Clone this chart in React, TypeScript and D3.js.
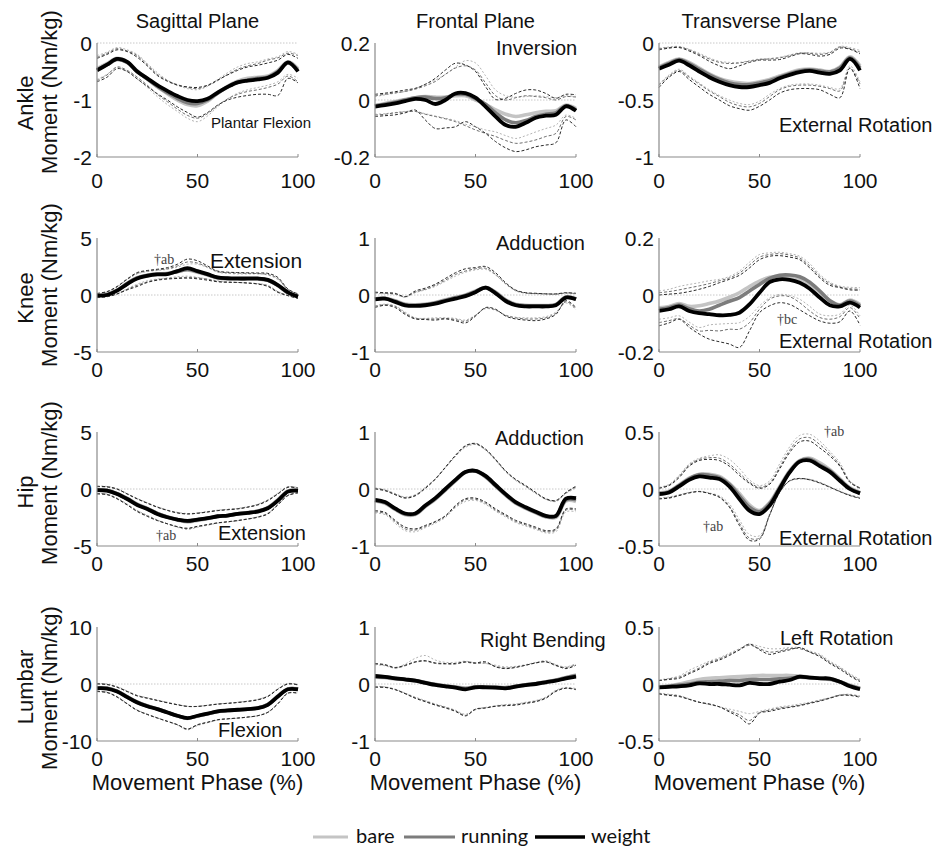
import React from 'react';
import * as d3 from 'd3';

// ---------------- DATA ----------------
const PHASE = [0, 5, 10, 15, 20, 25, 30, 35, 40, 45, 50, 55, 60, 65, 70, 75, 80, 85, 90, 95, 100];

const ROWS = ['Ankle', 'Knee', 'Hip', 'Lumbar'];
const PLANES = ['Sagittal Plane', 'Frontal Plane', 'Transverse Plane'];
const CONDITIONS = ['bare', 'running', 'weight'];

// Ankle
const ankleSag = {
  bM: [-0.45,-0.36,-0.27,-0.33,-0.49,-0.63,-0.77,-0.89,-1.0,-1.08,-1.1,-1.02,-0.88,-0.76,-0.67,-0.62,-0.6,-0.58,-0.48,-0.33,-0.45],
  rM: [-0.47,-0.38,-0.29,-0.34,-0.5,-0.63,-0.76,-0.87,-0.97,-1.05,-1.06,-1.0,-0.88,-0.77,-0.69,-0.65,-0.62,-0.6,-0.5,-0.35,-0.48],
  wM: [-0.48,-0.38,-0.28,-0.33,-0.5,-0.62,-0.74,-0.84,-0.93,-1.0,-1.02,-0.98,-0.87,-0.77,-0.69,-0.66,-0.64,-0.61,-0.52,-0.34,-0.5],
  bU: [-0.22,-0.16,-0.08,-0.12,-0.2,-0.36,-0.52,-0.65,-0.74,-0.8,-0.82,-0.76,-0.64,-0.52,-0.42,-0.36,-0.33,-0.28,-0.24,-0.15,-0.2],
  rU: [-0.25,-0.18,-0.1,-0.14,-0.22,-0.38,-0.55,-0.66,-0.73,-0.78,-0.8,-0.75,-0.66,-0.55,-0.46,-0.4,-0.36,-0.3,-0.26,-0.18,-0.22],
  wU: [-0.27,-0.2,-0.12,-0.15,-0.25,-0.4,-0.57,-0.67,-0.74,-0.77,-0.78,-0.74,-0.65,-0.56,-0.48,-0.42,-0.39,-0.35,-0.3,-0.2,-0.27],
  bL: [-0.64,-0.55,-0.43,-0.5,-0.63,-0.78,-0.94,-1.08,-1.2,-1.32,-1.38,-1.28,-1.12,-0.98,-0.88,-0.82,-0.78,-0.74,-0.68,-0.55,-0.62],
  rL: [-0.66,-0.56,-0.42,-0.48,-0.6,-0.74,-0.9,-1.03,-1.16,-1.27,-1.32,-1.24,-1.1,-0.98,-0.9,-0.85,-0.82,-0.78,-0.72,-0.58,-0.68],
  wL: [-0.68,-0.6,-0.45,-0.5,-0.63,-0.76,-0.89,-1.0,-1.12,-1.22,-1.3,-1.22,-1.09,-1.0,-0.95,-0.92,-0.9,-0.9,-0.92,-0.62,-0.7],
};
const ankleFro = {
  bM: [-0.02,-0.012,-0.005,0.002,0.008,0.012,0.01,0.01,0.015,0.015,0.0,-0.015,-0.035,-0.05,-0.058,-0.052,-0.045,-0.04,-0.038,-0.018,-0.03],
  rM: [-0.02,-0.015,-0.008,0.0,0.008,0.01,0.005,0.008,0.02,0.02,0.005,-0.015,-0.045,-0.07,-0.08,-0.072,-0.058,-0.05,-0.045,-0.02,-0.035],
  wM: [-0.023,-0.018,-0.012,-0.004,0.004,0,-0.014,0,0.023,0.024,0.008,-0.023,-0.058,-0.088,-0.094,-0.08,-0.062,-0.055,-0.052,-0.022,-0.038],
  bU: [0.012,0.018,0.024,0.03,0.04,0.055,0.07,0.09,0.115,0.138,0.13,0.085,0.035,0.015,0.01,0.012,0.015,0.012,0.008,0.015,0.012],
  rU: [0.015,0.02,0.025,0.03,0.038,0.05,0.065,0.09,0.112,0.12,0.105,0.06,0.015,0.0,0.008,0.015,0.012,0.008,0.0,0.012,0.01],
  wU: [0.02,0.024,0.029,0.035,0.041,0.055,0.076,0.105,0.129,0.123,0.1,0.047,0.002,0.006,0.023,0.035,0.035,0.023,0.006,0.02,0.018],
  bL: [-0.05,-0.048,-0.044,-0.04,-0.04,-0.048,-0.056,-0.064,-0.072,-0.085,-0.094,-0.105,-0.112,-0.125,-0.135,-0.125,-0.112,-0.1,-0.088,-0.053,-0.065],
  rL: [-0.053,-0.05,-0.045,-0.042,-0.04,-0.05,-0.058,-0.066,-0.076,-0.09,-0.105,-0.117,-0.128,-0.142,-0.152,-0.148,-0.14,-0.128,-0.117,-0.058,-0.07],
  wL: [-0.058,-0.055,-0.052,-0.045,-0.035,-0.07,-0.1,-0.098,-0.094,-0.076,-0.094,-0.117,-0.146,-0.168,-0.181,-0.175,-0.164,-0.158,-0.15,-0.07,-0.094],
};
const ankleTra = {
  bM: [-0.21,-0.17,-0.14,-0.17,-0.22,-0.27,-0.31,-0.335,-0.35,-0.355,-0.34,-0.32,-0.29,-0.26,-0.235,-0.228,-0.238,-0.25,-0.21,-0.12,-0.2],
  rM: [-0.22,-0.18,-0.145,-0.18,-0.23,-0.28,-0.32,-0.35,-0.365,-0.365,-0.35,-0.33,-0.3,-0.27,-0.245,-0.235,-0.245,-0.255,-0.22,-0.13,-0.22],
  wM: [-0.225,-0.19,-0.155,-0.195,-0.25,-0.3,-0.34,-0.37,-0.386,-0.386,-0.37,-0.35,-0.31,-0.28,-0.255,-0.245,-0.26,-0.27,-0.24,-0.14,-0.24],
  bU: [-0.045,-0.035,-0.03,-0.055,-0.09,-0.13,-0.16,-0.17,-0.17,-0.155,-0.14,-0.135,-0.125,-0.105,-0.085,-0.085,-0.09,-0.08,-0.03,-0.04,-0.065],
  rU: [-0.05,-0.04,-0.035,-0.06,-0.1,-0.14,-0.17,-0.18,-0.175,-0.16,-0.145,-0.14,-0.13,-0.11,-0.09,-0.09,-0.1,-0.085,-0.035,-0.05,-0.08],
  wU: [-0.06,-0.045,-0.04,-0.07,-0.11,-0.16,-0.2,-0.225,-0.2,-0.17,-0.15,-0.15,-0.145,-0.12,-0.094,-0.1,-0.115,-0.1,-0.045,-0.055,-0.095],
  bL: [-0.36,-0.28,-0.23,-0.29,-0.35,-0.41,-0.46,-0.5,-0.53,-0.54,-0.51,-0.45,-0.4,-0.37,-0.36,-0.36,-0.37,-0.39,-0.4,-0.2,-0.34],
  rL: [-0.37,-0.29,-0.24,-0.3,-0.36,-0.42,-0.47,-0.52,-0.55,-0.56,-0.53,-0.47,-0.41,-0.38,-0.37,-0.37,-0.38,-0.4,-0.42,-0.22,-0.36],
  wL: [-0.39,-0.3,-0.25,-0.32,-0.386,-0.45,-0.5,-0.55,-0.576,-0.59,-0.555,-0.5,-0.44,-0.41,-0.4,-0.4,-0.41,-0.45,-0.48,-0.22,-0.4],
};

// Knee
const kneeSag = {
  bM: [-0.04,0.03,0.42,1.02,1.52,1.74,1.85,1.9,2.1,2.2,2.0,1.75,1.5,1.42,1.4,1.4,1.4,1.28,0.82,0.2,-0.1],
  rM: [-0.05,0.02,0.4,1.0,1.5,1.72,1.82,1.86,2.05,2.25,2.05,1.8,1.52,1.45,1.43,1.43,1.42,1.3,0.85,0.2,-0.12],
  wM: [-0.06,0.0,0.38,0.96,1.45,1.68,1.8,1.83,2.1,2.35,2.1,1.83,1.54,1.47,1.45,1.45,1.45,1.33,0.87,0.23,-0.14],
  bU: [0.1,0.25,0.7,1.35,1.85,2.05,2.15,2.25,2.45,2.7,2.7,2.4,2.0,1.9,1.85,1.85,1.85,1.75,1.35,0.45,0.05],
  rU: [0.12,0.28,0.72,1.38,1.9,2.1,2.2,2.3,2.55,2.9,2.8,2.45,2.05,1.95,1.92,1.9,1.88,1.8,1.45,0.48,0.08],
  wU: [0.14,0.3,0.75,1.4,1.97,2.15,2.26,2.4,2.7,3.15,3.0,2.55,2.1,2.0,1.97,1.95,1.93,1.9,1.54,0.52,0.1],
  bL: [-0.2,-0.12,0.12,0.55,0.95,1.25,1.4,1.5,1.6,1.65,1.55,1.4,1.25,1.15,1.1,1.05,1.0,0.85,0.3,-0.04,-0.26],
  rL: [-0.22,-0.14,0.1,0.5,0.85,1.15,1.35,1.45,1.5,1.55,1.5,1.38,1.2,1.12,1.1,1.05,0.98,0.8,0.28,-0.05,-0.28],
  wL: [-0.23,-0.15,0.09,0.45,0.75,1.1,1.3,1.4,1.45,1.48,1.42,1.3,1.16,1.12,1.1,1.05,0.96,0.75,0.23,-0.06,-0.29],
};
const kneeFro = {
  bM: [-0.065,-0.055,-0.1,-0.16,-0.17,-0.16,-0.13,-0.085,-0.04,0.0,0.07,0.13,0.05,-0.085,-0.16,-0.18,-0.185,-0.185,-0.165,-0.035,-0.065],
  rM: [-0.07,-0.06,-0.11,-0.17,-0.18,-0.17,-0.14,-0.095,-0.05,-0.01,0.06,0.13,0.04,-0.095,-0.17,-0.19,-0.19,-0.19,-0.17,-0.04,-0.07],
  wM: [-0.076,-0.065,-0.12,-0.18,-0.19,-0.18,-0.15,-0.105,-0.064,-0.02,0.05,0.128,0.03,-0.105,-0.18,-0.2,-0.2,-0.2,-0.18,-0.046,-0.076],
  bU: [0.03,0.02,0.01,-0.04,0.04,0.09,0.15,0.24,0.33,0.4,0.44,0.45,0.35,0.19,0.07,0.03,0.02,0.015,0.01,0.03,0.02],
  rU: [0.04,0.03,0.02,-0.03,0.05,0.1,0.17,0.26,0.36,0.42,0.46,0.47,0.36,0.2,0.08,0.035,0.025,0.02,0.015,0.035,0.025],
  wU: [0.05,0.04,0.03,-0.03,0.07,0.12,0.19,0.29,0.39,0.46,0.48,0.5,0.39,0.215,0.087,0.04,0.03,0.02,0.02,0.04,0.03],
  bL: [-0.19,-0.16,-0.19,-0.3,-0.4,-0.41,-0.4,-0.4,-0.41,-0.44,-0.35,-0.24,-0.27,-0.35,-0.39,-0.4,-0.4,-0.38,-0.3,-0.14,-0.26],
  rL: [-0.2,-0.17,-0.2,-0.32,-0.41,-0.42,-0.42,-0.41,-0.43,-0.46,-0.36,-0.23,-0.26,-0.36,-0.4,-0.42,-0.42,-0.4,-0.32,-0.12,-0.24],
  wL: [-0.22,-0.18,-0.22,-0.34,-0.42,-0.43,-0.44,-0.42,-0.45,-0.49,-0.37,-0.22,-0.25,-0.37,-0.42,-0.44,-0.45,-0.42,-0.34,-0.1,-0.22],
};
const kneeTra = {
  bM: [-0.045,-0.04,-0.03,-0.04,-0.038,-0.03,-0.021,-0.008,0.008,0.03,0.049,0.062,0.066,0.064,0.055,0.038,0.01,-0.02,-0.034,-0.018,-0.033],
  rM: [-0.05,-0.045,-0.035,-0.048,-0.056,-0.05,-0.036,-0.022,-0.009,0.014,0.037,0.058,0.069,0.07,0.064,0.045,0.014,-0.02,-0.036,-0.021,-0.038],
  wM: [-0.056,-0.05,-0.04,-0.056,-0.064,-0.067,-0.071,-0.07,-0.062,-0.033,0.008,0.045,0.055,0.053,0.043,0.022,-0.009,-0.036,-0.04,-0.027,-0.044],
  bU: [0.014,0.02,0.03,0.037,0.043,0.05,0.055,0.065,0.084,0.115,0.142,0.148,0.15,0.145,0.136,0.11,0.072,0.045,0.031,0.027,0.026],
  rU: [0.008,0.012,0.018,0.025,0.032,0.04,0.05,0.06,0.077,0.105,0.133,0.142,0.145,0.14,0.13,0.102,0.066,0.04,0.028,0.022,0.02],
  wU: [0.0,0.003,0.006,0.012,0.02,0.03,0.043,0.055,0.069,0.095,0.124,0.136,0.138,0.133,0.124,0.095,0.06,0.034,0.026,0.018,0.017],
  bL: [-0.085,-0.08,-0.073,-0.095,-0.114,-0.105,-0.102,-0.1,-0.097,-0.075,-0.038,-0.01,0.002,-0.002,-0.015,-0.04,-0.067,-0.073,-0.067,-0.036,-0.073],
  rL: [-0.097,-0.09,-0.083,-0.105,-0.126,-0.124,-0.126,-0.12,-0.12,-0.097,-0.05,-0.015,-0.003,-0.006,-0.027,-0.056,-0.079,-0.085,-0.076,-0.044,-0.083],
  wL: [-0.108,-0.098,-0.085,-0.113,-0.137,-0.155,-0.164,-0.172,-0.184,-0.126,-0.062,-0.038,-0.027,-0.033,-0.052,-0.073,-0.091,-0.099,-0.094,-0.056,-0.106],
};

// Hip
const hipSag = {
  bM: [-0.07,-0.12,-0.4,-0.82,-1.33,-1.7,-2.14,-2.47,-2.72,-2.88,-2.75,-2.6,-2.42,-2.33,-2.18,-2.07,-1.93,-1.62,-0.95,-0.18,-0.1],
  rM: [-0.08,-0.14,-0.42,-0.85,-1.36,-1.72,-2.15,-2.46,-2.68,-2.82,-2.7,-2.56,-2.4,-2.32,-2.18,-2.08,-1.95,-1.65,-0.98,-0.2,-0.12],
  wM: [-0.09,-0.15,-0.44,-0.88,-1.4,-1.75,-2.19,-2.48,-2.68,-2.8,-2.68,-2.56,-2.39,-2.33,-2.19,-2.1,-1.98,-1.69,-1.02,-0.23,-0.15],
  bU: [0.25,0.22,0.03,-0.4,-0.83,-1.2,-1.56,-1.84,-2.05,-2.15,-2.1,-1.98,-1.86,-1.78,-1.7,-1.55,-1.33,-0.95,-0.36,0.2,0.12],
  rU: [0.2,0.17,-0.02,-0.42,-0.85,-1.22,-1.58,-1.86,-2.08,-2.18,-2.12,-2.0,-1.88,-1.8,-1.72,-1.57,-1.36,-0.98,-0.4,0.18,0.1],
  wU: [0.23,0.2,0.0,-0.44,-0.87,-1.25,-1.6,-1.88,-2.1,-2.19,-2.13,-2.02,-1.9,-1.82,-1.75,-1.6,-1.4,-1.02,-0.44,0.15,0.06],
  bL: [-0.38,-0.44,-0.8,-1.32,-1.88,-2.3,-2.72,-3.06,-3.36,-3.55,-3.36,-3.18,-3.0,-2.9,-2.78,-2.62,-2.44,-2.12,-1.3,-0.52,-0.3],
  rL: [-0.4,-0.46,-0.83,-1.36,-1.92,-2.35,-2.74,-3.05,-3.32,-3.48,-3.3,-3.14,-2.98,-2.88,-2.76,-2.62,-2.45,-2.15,-1.35,-0.55,-0.32],
  wL: [-0.44,-0.5,-0.87,-1.4,-1.98,-2.4,-2.77,-3.05,-3.3,-3.44,-3.27,-3.12,-2.97,-2.87,-2.77,-2.64,-2.48,-2.19,-1.4,-0.58,-0.35],
};
const hipFro = {
  bM: [-0.21,-0.25,-0.36,-0.45,-0.45,-0.31,-0.18,-0.02,0.14,0.29,0.31,0.21,0.05,-0.11,-0.25,-0.34,-0.42,-0.49,-0.5,-0.21,-0.22],
  rM: [-0.2,-0.24,-0.35,-0.44,-0.44,-0.3,-0.17,-0.01,0.15,0.3,0.32,0.22,0.06,-0.1,-0.24,-0.33,-0.41,-0.48,-0.48,-0.19,-0.19],
  wM: [-0.19,-0.23,-0.34,-0.43,-0.43,-0.29,-0.16,0.0,0.16,0.3,0.32,0.23,0.07,-0.09,-0.23,-0.32,-0.4,-0.47,-0.47,-0.17,-0.16],
  bU: [0.02,-0.01,-0.08,-0.14,-0.1,0.03,0.18,0.37,0.57,0.73,0.78,0.68,0.5,0.3,0.15,0.04,-0.08,-0.18,-0.22,-0.08,0.02],
  rU: [0.01,-0.02,-0.09,-0.15,-0.11,0.02,0.18,0.38,0.58,0.75,0.79,0.69,0.51,0.31,0.16,0.05,-0.07,-0.18,-0.21,-0.07,0.04],
  wU: [0.0,-0.03,-0.1,-0.16,-0.12,0.01,0.17,0.38,0.59,0.76,0.8,0.7,0.52,0.32,0.17,0.06,-0.06,-0.17,-0.2,-0.06,0.05],
  bL: [-0.42,-0.45,-0.6,-0.73,-0.75,-0.68,-0.6,-0.5,-0.33,-0.22,-0.2,-0.27,-0.39,-0.49,-0.59,-0.65,-0.71,-0.77,-0.75,-0.4,-0.4],
  rL: [-0.4,-0.43,-0.57,-0.7,-0.72,-0.66,-0.58,-0.48,-0.31,-0.19,-0.18,-0.25,-0.37,-0.47,-0.57,-0.63,-0.69,-0.75,-0.72,-0.37,-0.37],
  wL: [-0.38,-0.41,-0.55,-0.67,-0.7,-0.64,-0.57,-0.47,-0.29,-0.17,-0.16,-0.23,-0.35,-0.45,-0.55,-0.61,-0.67,-0.73,-0.7,-0.35,-0.35],
};
const hipTra = {
  bM: [-0.035,-0.02,0.035,0.095,0.13,0.13,0.11,0.05,-0.04,-0.14,-0.19,-0.12,0.02,0.16,0.25,0.27,0.23,0.17,0.09,0.01,-0.03],
  rM: [-0.04,-0.025,0.03,0.09,0.125,0.12,0.1,0.04,-0.06,-0.16,-0.2,-0.13,0.01,0.15,0.245,0.26,0.21,0.16,0.08,0.005,-0.035],
  wM: [-0.044,-0.03,0.023,0.08,0.11,0.1,0.087,0.023,-0.087,-0.19,-0.22,-0.146,0.0,0.146,0.24,0.25,0.2,0.15,0.073,0.0,-0.038],
  bU: [0.015,0.04,0.12,0.22,0.27,0.29,0.3,0.26,0.18,0.08,0.03,0.07,0.22,0.37,0.47,0.48,0.42,0.33,0.23,0.07,0.01],
  rU: [0.01,0.035,0.11,0.21,0.26,0.275,0.27,0.22,0.14,0.06,0.015,0.05,0.19,0.34,0.44,0.45,0.39,0.31,0.21,0.065,0.01],
  wU: [0.006,0.03,0.1,0.2,0.25,0.26,0.25,0.2,0.12,0.05,0.006,0.04,0.175,0.32,0.414,0.42,0.36,0.29,0.2,0.058,0.006],
  bL: [-0.08,-0.07,-0.05,-0.03,-0.02,-0.035,-0.06,-0.13,-0.27,-0.4,-0.41,-0.22,-0.03,0.07,0.09,0.085,0.06,0.02,-0.02,-0.05,-0.075],
  rL: [-0.084,-0.075,-0.054,-0.032,-0.022,-0.038,-0.068,-0.15,-0.3,-0.43,-0.43,-0.23,-0.03,0.07,0.09,0.082,0.055,0.018,-0.022,-0.055,-0.08],
  wL: [-0.087,-0.08,-0.058,-0.035,-0.023,-0.04,-0.073,-0.16,-0.32,-0.45,-0.44,-0.23,-0.03,0.073,0.093,0.08,0.052,0.015,-0.023,-0.058,-0.082],
};

// Lumbar
const lumbarSag = {
  bM: [-0.65,-0.72,-1.22,-2.2,-3.15,-3.82,-4.36,-4.98,-5.6,-6.05,-5.65,-5.25,-4.85,-4.68,-4.54,-4.42,-4.22,-3.58,-2.1,-0.85,-0.85],
  rM: [-0.7,-0.76,-1.28,-2.25,-3.2,-3.86,-4.38,-4.98,-5.56,-6.0,-5.6,-5.22,-4.82,-4.65,-4.52,-4.4,-4.22,-3.6,-2.15,-0.9,-0.9],
  wM: [-0.75,-0.8,-1.33,-2.3,-3.25,-3.9,-4.4,-5.0,-5.57,-5.97,-5.57,-5.2,-4.8,-4.64,-4.52,-4.4,-4.23,-3.65,-2.2,-0.93,-0.93],
  bU: [0.1,0.0,-0.45,-1.22,-1.98,-2.4,-2.82,-3.22,-3.6,-3.9,-3.92,-3.72,-3.5,-3.36,-3.2,-3.0,-2.7,-2.1,-0.82,0.1,-0.08],
  rU: [0.05,-0.05,-0.52,-1.28,-2.03,-2.45,-2.86,-3.26,-3.62,-3.92,-3.93,-3.74,-3.52,-3.38,-3.22,-3.02,-2.74,-2.15,-0.88,0.05,-0.12],
  wU: [0.0,-0.1,-0.58,-1.33,-2.09,-2.5,-2.9,-3.3,-3.65,-3.94,-3.94,-3.75,-3.54,-3.4,-3.25,-3.05,-2.78,-2.2,-0.93,0.0,-0.17],
  bL: [-1.25,-1.42,-2.2,-3.4,-4.55,-5.28,-5.93,-6.55,-7.2,-8.05,-7.3,-6.8,-6.33,-6.15,-6.0,-5.82,-5.56,-4.92,-3.38,-1.55,-1.55],
  rL: [-1.3,-1.46,-2.25,-3.45,-4.6,-5.32,-5.95,-6.55,-7.15,-7.95,-7.2,-6.75,-6.3,-6.12,-5.98,-5.8,-5.55,-4.95,-3.42,-1.58,-1.58],
  wL: [-1.33,-1.5,-2.3,-3.5,-4.64,-5.35,-5.97,-6.55,-7.13,-7.88,-7.13,-6.7,-6.26,-6.1,-5.97,-5.8,-5.57,-4.98,-3.48,-1.62,-1.62],
};
const lumbarFro = {
  bM: [0.12,0.11,0.09,0.075,0.055,0.025,-0.005,-0.03,-0.05,-0.07,-0.05,-0.05,-0.055,-0.06,-0.04,-0.012,0.01,0.04,0.07,0.115,0.16],
  rM: [0.13,0.12,0.1,0.08,0.06,0.025,-0.01,-0.035,-0.058,-0.08,-0.055,-0.052,-0.06,-0.068,-0.042,-0.015,0.005,0.035,0.065,0.11,0.15],
  wM: [0.14,0.125,0.1,0.08,0.058,0.02,-0.017,-0.04,-0.064,-0.093,-0.058,-0.058,-0.064,-0.075,-0.046,-0.02,0.0,0.03,0.058,0.1,0.13],
  bU: [0.34,0.32,0.28,0.35,0.45,0.5,0.42,0.38,0.38,0.4,0.37,0.36,0.33,0.3,0.31,0.34,0.38,0.41,0.34,0.3,0.36],
  rU: [0.35,0.33,0.28,0.32,0.38,0.4,0.36,0.35,0.35,0.38,0.36,0.37,0.31,0.28,0.3,0.33,0.37,0.39,0.32,0.29,0.34],
  wU: [0.36,0.34,0.29,0.33,0.39,0.41,0.37,0.36,0.36,0.39,0.37,0.39,0.3,0.27,0.29,0.33,0.37,0.39,0.33,0.27,0.33],
  bL: [-0.04,-0.05,-0.09,-0.16,-0.23,-0.29,-0.35,-0.4,-0.46,-0.53,-0.44,-0.41,-0.38,-0.36,-0.35,-0.32,-0.29,-0.23,-0.11,-0.06,-0.08],
  rL: [-0.05,-0.055,-0.095,-0.165,-0.24,-0.3,-0.36,-0.41,-0.47,-0.55,-0.45,-0.42,-0.39,-0.37,-0.36,-0.33,-0.3,-0.24,-0.12,-0.07,-0.09],
  wL: [-0.058,-0.06,-0.1,-0.17,-0.25,-0.31,-0.37,-0.42,-0.48,-0.56,-0.44,-0.42,-0.39,-0.38,-0.37,-0.34,-0.31,-0.25,-0.13,-0.075,-0.1],
};
const lumbarTra = {
  bM: [-0.025,-0.015,0.0,0.02,0.04,0.05,0.055,0.06,0.065,0.07,0.075,0.075,0.075,0.075,0.07,0.06,0.05,0.04,0.02,-0.01,-0.035],
  rM: [-0.03,-0.02,-0.01,0.0,0.015,0.02,0.025,0.03,0.03,0.04,0.04,0.04,0.045,0.05,0.06,0.055,0.05,0.045,0.02,-0.015,-0.04],
  wM: [-0.03,-0.025,-0.02,-0.012,0.006,0.0,0.0,-0.006,-0.012,0.01,0.0,0.0,0.02,0.035,0.064,0.055,0.05,0.048,0.02,-0.02,-0.046],
  bU: [0.035,0.05,0.07,0.12,0.16,0.2,0.23,0.27,0.31,0.35,0.33,0.31,0.31,0.32,0.32,0.29,0.26,0.2,0.15,0.09,0.04],
  rU: [0.03,0.045,0.06,0.1,0.14,0.19,0.22,0.26,0.3,0.34,0.31,0.28,0.29,0.31,0.31,0.28,0.25,0.19,0.14,0.08,0.03],
  wU: [0.03,0.04,0.05,0.09,0.13,0.18,0.21,0.25,0.3,0.35,0.3,0.26,0.28,0.3,0.32,0.28,0.24,0.18,0.13,0.07,0.02],
  bL: [-0.08,-0.09,-0.1,-0.13,-0.16,-0.18,-0.2,-0.22,-0.24,-0.26,-0.24,-0.22,-0.2,-0.19,-0.175,-0.16,-0.14,-0.12,-0.095,-0.09,-0.105],
  rL: [-0.085,-0.095,-0.105,-0.133,-0.16,-0.178,-0.2,-0.235,-0.27,-0.32,-0.25,-0.23,-0.21,-0.2,-0.185,-0.165,-0.145,-0.122,-0.098,-0.095,-0.11],
  wL: [-0.087,-0.1,-0.11,-0.135,-0.16,-0.175,-0.2,-0.245,-0.29,-0.35,-0.255,-0.24,-0.22,-0.205,-0.19,-0.17,-0.15,-0.125,-0.1,-0.1,-0.116],
};

const PANEL_DATA = [
  [ankleSag, ankleFro, ankleTra],
  [kneeSag, kneeFro, kneeTra],
  [hipSag, hipFro, hipTra],
  [lumbarSag, lumbarFro, lumbarTra],
];
const Y_DOMAINS = [
  [[-2, 0], [-0.2, 0.2], [-1, 0]],
  [[-5, 5], [-1, 1], [-0.2, 0.2]],
  [[-5, 5], [-1, 1], [-0.5, 0.5]],
  [[-10, 10], [-1, 1], [-0.5, 0.5]],
];
const X_TICKS = [0, 50, 100];

// Direction / significance labels: [row, col, text]
const NOTES = [
  [0, 0, 'Plantar Flexion'], [0, 1, 'Inversion'], [0, 2, 'External Rotation'],
  [1, 0, 'Extension'], [1, 1, 'Adduction'], [1, 2, 'External Rotation'],
  [2, 0, 'Extension'], [2, 1, 'Adduction'], [2, 2, 'External Rotation'],
  [3, 0, 'Flexion'], [3, 1, 'Right Bending'], [3, 2, 'Left Rotation'],
];
const SIG_NOTES = [
  [1, 0, '†ab'], [1, 2, '†bc'], [2, 0, '†ab'], [2, 2, '†ab'], [2, 2, '†ab'],
];

// ---------------- LAYOUT ----------------
const COL_X = [97, 375, 659];
const ROW_Y = [43, 238, 432, 627];
const PW = 201;
const PH = 114;
const SANS = '"Liberation Sans", Arial, sans-serif';
const SERIF = '"Liberation Serif", "Times New Roman", serif';

// note positions (absolute left x, baseline y, font size)
const NOTE_POS = [
  [211, 128, 15], [496, 55, 20], [779, 132, 20],
  [210, 268, 21], [496, 250, 20], [779, 348, 20],
  [218, 540, 20], [495, 445, 20], [779, 545, 20],
  [218, 737, 20], [480, 647, 20], [780, 645, 20],
];
const SIG_POS = [[154, 264], [777, 324], [156, 540], [703, 531], [824, 436]];
const LABEL_DY = [-8, -10, -6, 4];
const XTICK_DY = [31, 25, 25, 25];

const MEAN_STYLE = {
  b: { stroke: '#c4c4c4', width: 3.6 },
  r: { stroke: '#7c7c7c', width: 3.6 },
  w: { stroke: '#000000', width: 3.8 },
};
const SD_STYLE = {
  b: { stroke: '#b4b4b4', dash: '2,2' },
  r: { stroke: '#6e6e6e', dash: '3,2' },
  w: { stroke: '#2a2a2a', dash: '3,2' },
};

function Panel({ row, col }: { row: number; col: number }) {
  const data: any = PANEL_DATA[row][col];
  const dom = Y_DOMAINS[row][col];
  const x0 = COL_X[col];
  const y0 = ROW_Y[row];
  const x = d3.scaleLinear().domain([0, 100]).range([x0, x0 + PW]);
  const y = d3.scaleLinear().domain(dom).range([y0 + PH, y0]);
  const yTicks = [dom[1], (dom[0] + dom[1]) / 2, dom[0]];
  const line = d3
    .line<number>()
    .x((_, i) => x(PHASE[i]))
    .y((d) => y(d))
    .curve(d3.curveCatmullRom.alpha(0.5));
  const keys = ['b', 'r', 'w'];
  return (
    <g>
      {/* zero line */}
      <line x1={x(0)} x2={x(100)} y1={y(0)} y2={y(0)} stroke="#c8c8c8" strokeWidth={1} strokeDasharray="1.5,1.5" />
      {/* SD lines */}
      {keys.map((k) => (
        <g key={'sd' + k}>
          <path d={line(data[k + 'U']) || ''} fill="none" stroke={SD_STYLE[k].stroke} strokeWidth={1} strokeDasharray={SD_STYLE[k].dash} />
          <path d={line(data[k + 'L']) || ''} fill="none" stroke={SD_STYLE[k].stroke} strokeWidth={1} strokeDasharray={SD_STYLE[k].dash} />
        </g>
      ))}
      {/* means */}
      {keys.map((k) => (
        <path key={'m' + k} d={line(data[k + 'M']) || ''} fill="none" stroke={MEAN_STYLE[k].stroke} strokeWidth={MEAN_STYLE[k].width} strokeLinejoin="round" />
      ))}
      {/* axes */}
      <line x1={x0} x2={x0} y1={y0} y2={y0 + PH} stroke="#8a8a8a" strokeWidth={1.2} />
      <line x1={x0} x2={x0 + PW} y1={y0 + PH} y2={y0 + PH} stroke="#8a8a8a" strokeWidth={1.2} />
      {X_TICKS.map((t) => (
        <g key={'xt' + t}>
          <line x1={x(t)} x2={x(t)} y1={y0 + PH} y2={y0 + PH - 3} stroke="#8a8a8a" />
          <text x={x(t)} y={y0 + PH + XTICK_DY[row]} textAnchor="middle" fontFamily={SANS} fontSize={21} fill="#111">
            {t}
          </text>
        </g>
      ))}
      {yTicks.map((t) => (
        <text key={'yt' + t} x={x0 - 5} y={y(t)} dy="0.36em" textAnchor="end" fontFamily={SANS} fontSize={21} fill="#111">
          {String(t)}
        </text>
      ))}
    </g>
  );
}

export default function App() {
  const W = 938;
  const H = 847;
  return (
    <svg width={W} height={H} style={{ position: 'absolute', left: 0, top: 0, background: '#fff' }}>
      <rect x={0} y={0} width={W} height={H} fill="#fff" />
      {PLANES.map((p, c) => (
        <text key={p} x={COL_X[c] + PW / 2} y={28} textAnchor="middle" fontFamily={SANS} fontSize={20} fill="#111">
          {p}
        </text>
      ))}
      {ROWS.map((r, ri) => {
        const cy = ROW_Y[ri] + PH / 2;
        return (
          <g key={r}>
            <text transform={`translate(33,${cy + 3}) rotate(-90)`} textAnchor="middle" fontFamily={SANS} fontSize={22} fill="#111">
              {r}
            </text>
            <text transform={`translate(57,${cy + LABEL_DY[ri]}) rotate(-90)`} textAnchor="middle" fontFamily={SANS} fontSize={22} fill="#111">
              Moment (Nm/kg)
            </text>
          </g>
        );
      })}
      {ROWS.map((r, ri) => PLANES.map((p, ci) => <Panel key={r + p} row={ri} col={ci} />))}
      {NOTES.map((n, i) => (
        <text key={'n' + i} x={NOTE_POS[i][0]} y={NOTE_POS[i][1]} fontFamily={SANS} fontSize={NOTE_POS[i][2]} fill="#111">
          {n[2]}
        </text>
      ))}
      {SIG_NOTES.map((n, i) => (
        <text key={'s' + i} x={SIG_POS[i][0]} y={SIG_POS[i][1]} fontFamily={SERIF} fontSize={14} fill="#444">
          {n[2]}
        </text>
      ))}
      {PLANES.map((p, c) => (
        <text key={'xl' + p} x={COL_X[c] + PW / 2} y={790} textAnchor="middle" fontFamily={SANS} fontSize={22} fill="#111">
          Movement Phase (%)
        </text>
      ))}
      {/* legend */}
      <g fontFamily='Lato, "Open Sans", sans-serif' fontSize={20} fill="#111">
        <line x1={313} x2={348} y1={837} y2={837} stroke="#c4c4c4" strokeWidth={3} />
        <text x={356} y={843}>{CONDITIONS[0]}</text>
        <line x1={404} x2={455} y1={837} y2={837} stroke="#7c7c7c" strokeWidth={3} />
        <text x={461} y={843}>{CONDITIONS[1]}</text>
        <line x1={535} x2={585} y1={837} y2={837} stroke="#000" strokeWidth={3.5} />
        <text x={591} y={843}>{CONDITIONS[2]}</text>
      </g>
    </svg>
  );
}
